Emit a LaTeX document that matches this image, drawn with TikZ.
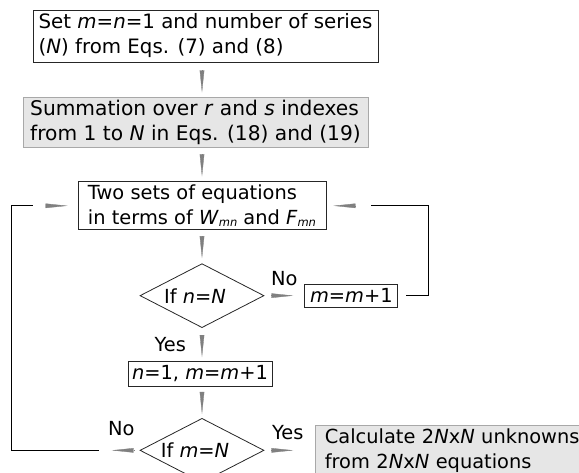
\documentclass[tikz,border=0pt]{standalone}
\usepackage{fontspec}
\setmainfont{DejaVu Sans}
\usetikzlibrary{arrows.meta,positioning,shapes.geometric}

\definecolor{boxgray}{HTML}{E6E6E6}
\definecolor{edgegray}{HTML}{A8A8A8}
\definecolor{tipgray}{HTML}{808080}
\newcommand{\idx}[1]{\raisebox{-2.5pt}{\fontsize{11.5}{11.5}\selectfont\itshape #1}}

\begin{document}
\begin{tikzpicture}[
    font=\fontsize{19.4}{25}\selectfont,
    box/.style={draw=black!85, line width=0.9pt, align=left, inner sep=0pt},
    shaded/.style={box, draw=edgegray, fill=boxgray},
    decide/.style={diamond, draw=black!85, line width=0.8pt, inner sep=0pt,
                   minimum width=124pt, minimum height=64pt},
    loopline/.style={draw=black, line width=0.9pt},
    wedge/.style 2 args={draw=tipgray, fill=tipgray, line width=0.3pt,
                   -{Triangle[length=22pt,width=4.5pt]},
                   shorten <=#1, shorten >=#2},
    lbl/.style={inner sep=0pt}]
    \useasboundingbox (0,0) rectangle (579pt,-473pt);
    \node[box, font=\fontsize{19.8}{25}\selectfont, minimum width=345pt,
          minimum height=52pt] (set) at (205.5pt,-36pt)
        {Set \textit{m}=\textit{n}=1 and number of series\\
         (\textit{N}) from Eqs. (7) and (8)};
    \node[shaded, font=\fontsize{20.2}{25}\selectfont, minimum width=345pt,
          minimum height=50pt, below=35pt of set, xshift=-10pt] (sum)
        {Summation over \textit{r} and \textit{s} indexes\\ from 1 to \textit{N} in Eqs. (18) and (19)};
    \node[box, minimum width=248pt, minimum height=48pt,
          below=33pt of sum, xshift=6.5pt] (two)
        {Two sets of equations\\ in terms of \textit{W}\idx{mn} and \textit{F}\idx{mn}};
    \node[decide, below=33pt of two,
          label={[lbl, xshift=-7pt]center:If \textit{n}=\textit{N}}] (ifn) {};
    \node[box, minimum width=93pt, minimum height=23pt,
          right=40pt of ifn] (more) {\textit{m}=\textit{m}+1};
    \node[box, minimum width=144pt, minimum height=25pt,
          below=33pt of ifn, xshift=-2pt] (reset) {\textit{n}=1, \textit{m}=\textit{m}+1};
    \node[decide, below=31pt of reset, xshift=2pt,
          label={[lbl, xshift=-7pt]center:If \textit{m}=\textit{N}}] (ifm) {};
    \node[shaded, text width=260pt, inner xsep=9pt, minimum height=50pt,
          right=51pt of ifm] (calc)
        {Calculate 2\textit{N}x\textit{N} unknowns\\ from 2\textit{N}x\textit{N} equations};
    % main column
    \draw[wedge={8pt}{5pt}] (set.south -| ifn.north) -- (sum.north -| ifn.north);
    \draw[wedge={6pt}{5pt}] (sum.south -| ifn.north) -- (two.north -| ifn.north);
    \draw[wedge={6pt}{5pt}] (two.south -| ifn.north) -- (ifn.north);
    \draw[wedge={7pt}{4pt}] (ifn.south) -- (reset.north -| ifn.south)
        node[lbl, midway, left=16pt]{Yes};
    \draw[wedge={5pt}{4pt}] (reset.south -| ifm.north) -- (ifm.north);
    \draw[wedge={7pt}{11pt}] (ifn.east) -- (more.west)
        node[lbl, midway, above=10pt]{No};
    \draw[wedge={7pt}{22pt}] (ifm.east) -- (calc.west)
        node[lbl, pos=0.46, above=10pt]{Yes};
    % loops back to the equations
    \draw[wedge={6pt}{0pt}] (ifm.west) -- ([xshift=-28pt]ifm.west)
        node[lbl, pos=0.65, above=14pt]{No};
    \draw[loopline] ([xshift=-41pt]ifm.west) -| ([xshift=-66pt]two.west) -- ([xshift=-45pt]two.west);
    \draw[wedge={0pt}{10pt}] ([xshift=-32pt]two.west) -- (two.west);
    \draw[loopline] ([xshift=8pt]more.east) -| ([xshift=102pt]two.east) -- ([xshift=45pt]two.east);
    \draw[wedge={0pt}{7pt}] ([xshift=29pt]two.east) -- (two.east);
\end{tikzpicture}
\end{document}
